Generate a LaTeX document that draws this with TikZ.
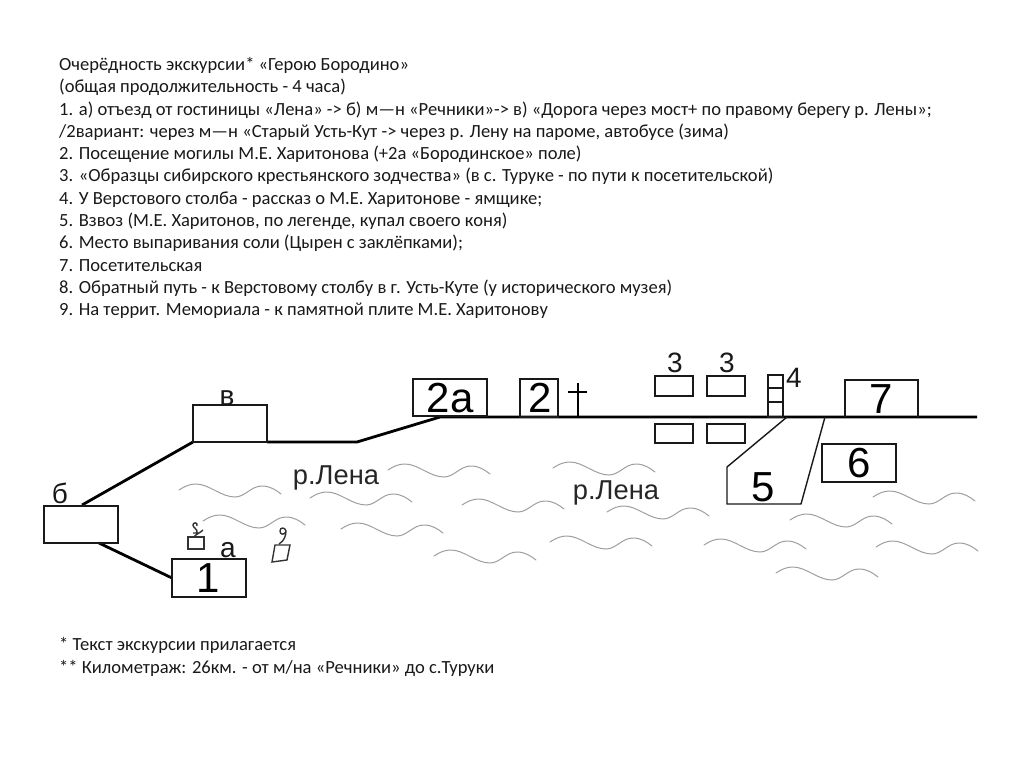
\documentclass[tikz,border=0pt]{standalone}
\usepackage{fontspec}
\setmainfont{Carlito}
\newfontfamily\arialf{Liberation Sans}
\tikzset{
  road/.style={line width=2.8pt,black},
  site/.style={line width=1.9pt,black!90},
  thinsite/.style={line width=1.4pt,black!90},
  wave/.style={line width=1pt,gray!75,line cap=round},
  doodle/.style={line width=1.4pt,black!80},
  txt/.style={anchor=base west,inner sep=0pt,font=\fontsize{18.55}{22}\selectfont,text=black!90},
  big/.style={inner sep=0pt,font=\arialf\fontsize{42}{42}\selectfont,text=black},
  mid/.style={inner sep=0pt,font=\arialf\fontsize{28}{28}\selectfont,text=black!90},
  lab/.style={inner sep=0pt,font=\arialf\fontsize{27.3}{27}\selectfont,text=black!85}
}
\newcommand{\wv}[2]{\begin{scope}[shift={(#1,#2)}]\draw[wave] (0,0) .. controls (6,-4) and (11,-6) .. (17,-6) .. controls (30,-6) and (42,7) .. (56,7) .. controls (66,7) and (72,-4) .. (83,-4) .. controls (91,-4) and (97,0) .. (102,4);\end{scope}}
\begin{document}
\begin{tikzpicture}[x=1pt,y=-1pt]
\useasboundingbox (0,0) rectangle (1024,767);
\fill[white] (0,0) rectangle (1024,767);
% text
\node[txt] (t1) at (59,70.5) {Очерёдность экскурсии* «Герою Бородино»};
\node[txt] (t2) at (59,92.8) {(общая продолжительность - 4 часа)};
\node[txt] (t3) at (59,115.1) {1. а) отъезд от гостиницы «Лена» -> б) м—н «Речники»-> в) «Дорога через мост+ по правому берегу р. Лены»;};
\node[txt] (t4) at (59,137.4) {/2вариант: через м—н «Старый Усть-Кут -> через р. Лену на пароме, автобусе (зима)};
\node[txt] (t5) at (59,159.7) {2. Посещение могилы М.Е. Харитонова (+2а «Бородинское» поле)};
\node[txt] (t6) at (59,182) {3. «Образцы сибирского крестьянского зодчества» (в с. Туруке - по пути к посетительской)};
\node[txt] (t7) at (59,204.3) {4. У Верстового столба - рассказ о М.Е. Харитонове - ямщике;};
\node[txt] (t8) at (59,226.6) {5. Взвоз (М.Е. Харитонов, по легенде, купал своего коня)};
\node[txt] (t9) at (59,248.9) {6. Место выпаривания соли (Цырен с заклёпками);};
\node[txt] (t10) at (59,271.2) {7. Посетительская};
\node[txt] (t11) at (59,293.5) {8. Обратный путь - к Верстовому столбу в г. Усть-Куте (у исторического музея)};
\node[txt] (t12) at (59,315.8) {9. На террит. Мемориала - к памятной плите М.Е. Харитонову};
\node[txt] (t13) at (59,650) {* Текст экскурсии прилагается};
\node[txt] (t14) at (59,673) {** Километраж: 26км. - от м/на «Речники» до с.Туруки};
% waves
\wv{179}{490}\wv{388}{470}\wv{310}{498}\wv{462}{505}\wv{203}{521}\wv{341}{529}\wv{434}{556}
\wv{553}{468}\wv{607}{512}\wv{550}{542}\wv{873}{497}\wv{790}{520}\wv{704}{545}\wv{876}{547}\wv{776}{573}
% road nodes
\coordinate (bR) at (82,505);
\coordinate (vL) at (193,442);
\coordinate (vR) at (267,442);
\coordinate (kink) at (357,442);
\coordinate (up) at (440,417);
\coordinate (end) at (977,417);
\coordinate (bB) at (99,543);
\coordinate (oneL) at (172,578);
\draw[road] (bR) -- (vL);
\draw[road] (vR) -- (kink) -- (up) -- (end);
\draw[road] (bB) -- (oneL);
% boxes
\draw[site] (44,506) rectangle (118,543);
\draw[site] (193,405) rectangle (267,442);
\draw[site] (413,379) rectangle (487,416);
\draw[site] (172,559) rectangle (246,597);
\draw[site] (520,379) rectangle (558,417);
\draw[site] (655,376) rectangle (693,396);
\draw[site] (707,376) rectangle (745,396);
\draw[site] (655,424) rectangle (693,443);
\draw[site] (707,424) rectangle (745,443);
\draw[site] (768,375) rectangle (783,417);
\draw[site] (768,388) -- (783,388);
\draw[site] (768,402) -- (783,402);
\draw[site] (845,417) -- (845,380) -- (918,380) -- (918,417);
\draw[site] (822,444) rectangle (896,482);
\draw[thinsite] (787,417) -- (727,467) -- (727,504) -- (801,504) -- (825,417);
% cross
\draw[line width=2pt,black] (578,383) -- (578,417) (568,392) -- (587,392);
% doodles
\draw[doodle] (188,537) rectangle (204,549);
\draw[doodle] (194,537) .. controls (196,534) and (200,533) .. (203,530) (193,533) -- (198,533) (197,533) .. controls (198,529) and (193,528) .. (193,525) .. controls (193,522) and (198,522) .. (197,526);
\draw[doodle] (275,545) -- (290,545) -- (287,560) -- (272,562) -- cycle;
\draw[doodle] (279,544) .. controls (284,541) and (286,536) .. (286,531) .. controls (285,527) and (280,527) .. (280,531) .. controls (280,535) and (284,535) .. (286,532);
% labels
\node[big] (n2a) at (450,398) {2а};
\node[big] (n1) at (208,578) {1};
\node[big] (n2) at (540,398) {2};
\node[big] (n7) at (881,399) {7};
\node[big] (n6) at (859,463) {6};
\node[big] (n5) at (763,487) {5};
\node[mid] (lb3a) at (675,363) {3};
\node[mid] (lb3b) at (727,363) {3};
\node[mid] (lb4) at (794,378) {4};
\node[mid] (lbv) at (227,398) {в};
\node[mid] (lbb) at (60,493) {б};
\node[mid] (lba) at (228,550) {а};
\node[lab] (r1) at (336,478) {р.Лена};
\node[lab] (r2) at (616,493) {р.Лена};
\end{tikzpicture}
\end{document}
